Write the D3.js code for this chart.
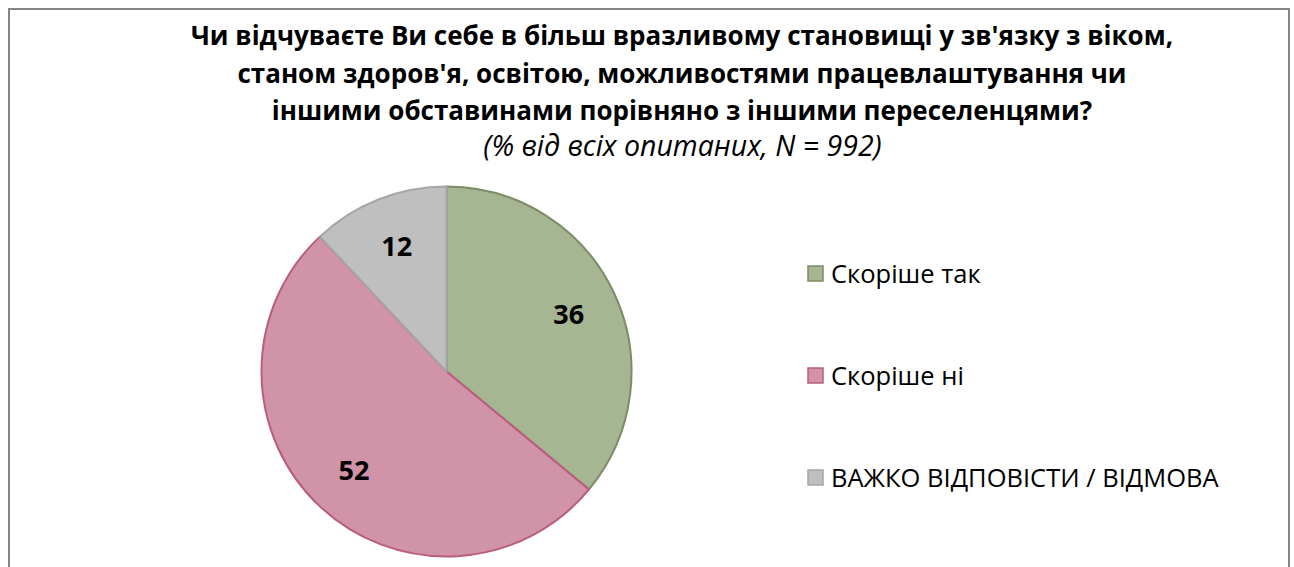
<!DOCTYPE html>
<html>
<head>
<meta charset="utf-8">
<script src="https://cdn.jsdelivr.net/npm/d3@7"></script>
<style>
  body { margin: 0; background: #fff; }
  svg { display: block; font-family: "Open Sans", "Noto Sans", sans-serif; }
</style>
</head>
<body>
<script>
// - Pie chart -

// Data

const titleLines = [
  "Чи відчуваєте Ви себе в більш вразливому становищі у зв'язку з віком,",
  "станом здоров'я, освітою, можливостями працевлаштування чи",
  "іншими обставинами порівняно з іншими переселенцями?"
];
const subtitle = "(% від всіх опитаних, N = 992)";
const categories = ["Скоріше так", "Скоріше ні", "ВАЖКО ВІДПОВІСТИ / ВІДМОВА"];
const values = [36, 52, 12];

// Chart size

const w = 1294,
      h = 567,
      cx = 446.5,
      cy = 371.5,
      radius = 185;

// Chart colors

const fill = d3.scaleOrdinal().domain(categories).range(["#a6b592", "#d093a7", "#bfbfbf"]);
const line = d3.scaleOrdinal().domain(categories).range(["#7b8c66", "#b95c7e", "#a6a6a6"]);

// SVG

const svg = d3.select("body")
              .append("svg")
              .attr("width", w)
              .attr("height", h);

svg.append("rect")
   .attr("x", 9)
   .attr("y", 9)
   .attr("width", 1280)
   .attr("height", 580)
   .attr("fill", "#fff")
   .attr("stroke", "#868686")
   .attr("stroke-width", 2);

// Title

svg.selectAll(".title")
   .data(titleLines)
   .enter()
   .append("text")
   .attr("class", "title")
   .attr("x", 682)
   .attr("y", (d, i) => 45 + i * 37.5)
   .attr("text-anchor", "middle")
   .attr("font-size", 26)
   .attr("font-weight", "bold")
   .attr("fill", "#000")
   .text(d => d);

svg.append("text")
   .attr("x", 682.5)
   .attr("y", 156)
   .attr("text-anchor", "middle")
   .attr("font-size", 28.5)
   .attr("font-style", "italic")
   .attr("fill", "#000")
   .text(subtitle);

// Pie

const pie = d3.pie().sort(null);
const arc = d3.arc().innerRadius(0).outerRadius(radius);
const labelArc = d3.arc().innerRadius(radius * 0.73).outerRadius(radius * 0.73);

const slices = pie(values);

const g = svg.append("g")
             .attr("transform", "translate(" + cx + "," + cy + ")");

g.selectAll("path")
 .data(slices)
 .enter()
 .append("path")
 .attr("d", arc)
 .attr("fill", (d, i) => fill(categories[i]))
 .attr("stroke", (d, i) => line(categories[i]))
 .attr("stroke-width", 2)
 .attr("stroke-linejoin", "round");

g.selectAll(".label")
 .data(slices)
 .enter()
 .append("text")
 .attr("class", "label")
 .attr("transform", d => "translate(" + labelArc.centroid(d) + ")")
 .attr("text-anchor", "middle")
 .attr("dy", "0.36em")
 .attr("font-size", 27)
 .attr("font-weight", "bold")
 .attr("fill", "#000")
 .text(d => d.data);

// Legend

const legend = svg.selectAll(".legend")
                  .data(categories)
                  .enter()
                  .append("g")
                  .attr("class", "legend")
                  .attr("transform", (d, i) => "translate(808," + (274 + i * 102) + ")");

legend.append("rect")
      .attr("x", 0)
      .attr("y", -8)
      .attr("width", 15)
      .attr("height", 15)
      .attr("fill", d => fill(d))
      .attr("stroke", d => line(d))
      .attr("stroke-width", 1.5);

legend.append("text")
      .attr("x", 23)
      .attr("y", 0)
      .attr("dy", "0.35em")
      .attr("font-size", 25.5)
      .attr("fill", "#000")
      .text(d => d);
</script>
</body>
</html>
